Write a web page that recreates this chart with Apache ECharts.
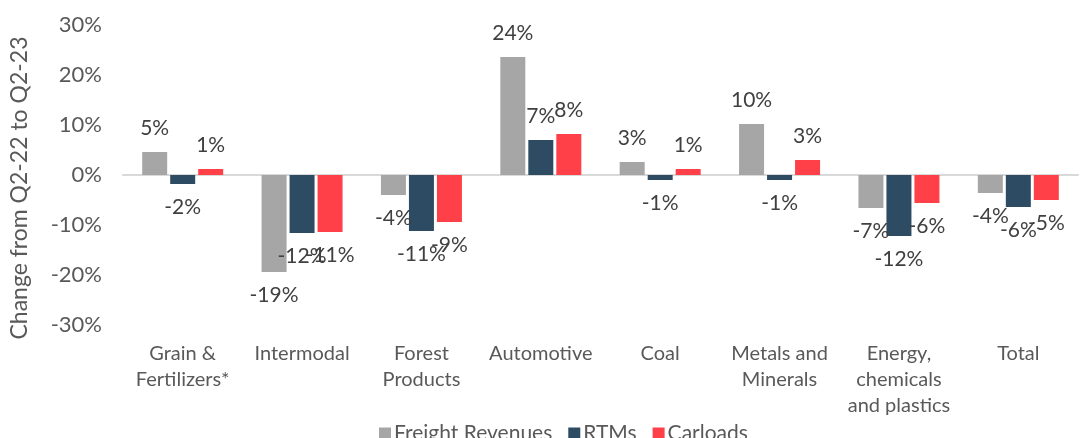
<!DOCTYPE html>
<html>
<head>
<meta charset="utf-8">
<script src="https://cdn.jsdelivr.net/npm/echarts@6/dist/echarts.min.js"></script>
<style>
    html, body { margin: 0; padding: 0; background: #fff; }
    #chart { width: 1084px; height: 438px; }
</style>
</head>
<body>
<div id="chart"></div>
<script>
    const categories = ['Grain &\nFertilizers*', 'Intermodal', 'Forest\nProducts', 'Automotive', 'Coal',
        'Metals and\nMinerals', 'Energy,\nchemicals\nand plastics', 'Total'];
    const freightRevenues = [4.6, -19.4, -4.0, 23.6, 2.6, 10.2, -6.6, -3.6];
    const rtms = [-1.8, -11.6, -11.2, 7.0, -1.0, -1.0, -12.2, -6.4];
    const carloads = [1.2, -11.4, -9.4, 8.2, 1.2, 3.0, -5.6, -5.0];
    const yTicks = [-30, -20, -10, 0, 10, 20, 30];

    const font = 'Lato, "DejaVu Sans", sans-serif';
    const chart = echarts.init(document.getElementById('chart'));

    function barSeries(name, data, color) {
        return {
            name: name,
            type: 'bar',
            data: data,
            barWidth: 25,
            barGap: '12%',
            itemStyle: { color: color },
            label: {
                show: true,
                position: 'outside',
                distance: 13,
                fontFamily: font,
                fontSize: 21,
                color: '#404040',
                formatter: p => Math.round(p.value) + '%'
            }
        };
    }

    chart.setOption({
        animation: false,
        textStyle: { fontFamily: font },
        grid: { left: 119, right: 6, top: 25, bottom: 113 },
        legend: {
            left: 374,
            top: 418,
            itemWidth: 12,
            itemHeight: 12,
            itemGap: 16,
            icon: 'rect',
            textStyle: { fontFamily: font, fontSize: 21, color: '#595959', padding: [0, 0, 0, -2] },
            data: ['Freight Revenues', 'RTMs', 'Carloads']
        },
        xAxis: [
            {
                type: 'category',
                data: categories,
                position: 'bottom',
                axisLine: { show: false, onZero: false },
                axisTick: { show: false },
                axisLabel: {
                    interval: 0,
                    margin: 16,
                    fontFamily: font,
                    fontSize: 20,
                    lineHeight: 26,
                    color: '#595959'
                }
            },
            {
                type: 'category',
                data: categories,
                axisLine: { show: true, onZero: true, lineStyle: { color: '#d9d9d9', width: 2 } },
                axisTick: { show: false },
                axisLabel: { show: false }
            }
        ],
        yAxis: {
            type: 'value',
            min: yTicks[0],
            max: yTicks[yTicks.length - 1],
            interval: 10,
            name: 'Change from Q2-22 to Q2-23',
            nameLocation: 'middle',
            nameGap: 92,
            nameTextStyle: { fontFamily: font, fontSize: 23, color: '#595959', padding: [0, 0, 0, -26] },
            axisLine: { show: false },
            axisTick: { show: false },
            splitLine: { show: false },
            axisLabel: {
                margin: 21,
                fontFamily: font,
                fontSize: 22,
                color: '#595959',
                formatter: v => v + '%'
            }
        },
        series: [
            barSeries('Freight Revenues', freightRevenues, '#a6a6a6'),
            barSeries('RTMs', rtms, '#2d4b62'),
            barSeries('Carloads', carloads, '#ff4048')
        ]
    });
</script>
</body>
</html>
